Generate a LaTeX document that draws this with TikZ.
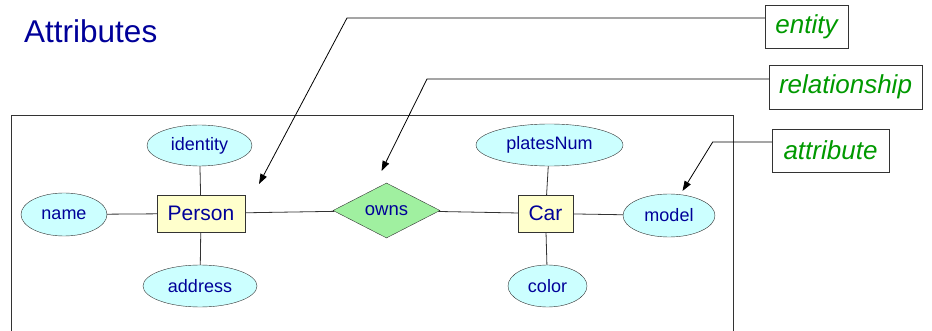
\documentclass[tikz,border=0pt]{standalone}
\usepackage{fontspec}
\setmainfont{Liberation Sans}
\usetikzlibrary{shapes.geometric,arrows.meta}
\definecolor{txtblue}{HTML}{000099}
\definecolor{attrfill}{HTML}{CCFFFF}
\definecolor{entfill}{HTML}{FFFFCC}
\definecolor{relfill}{HTML}{A0F0A0}
\definecolor{callgreen}{HTML}{009900}
\definecolor{edgegray}{HTML}{333333}
\tikzset{
  attr/.style={ellipse, draw=edgegray, fill=attrfill, inner sep=0pt, text=txtblue, font=\fontsize{18}{20}\selectfont},
  ent/.style={rectangle, draw=edgegray, fill=entfill, inner sep=0pt, text=txtblue, font=\fontsize{21}{24}\selectfont},
  rel/.style={diamond, draw=edgegray, fill=relfill, inner sep=0pt, text=txtblue, font=\fontsize{18.5}{20}\selectfont},
  callbox/.style={rectangle, draw=edgegray, inner sep=0pt, text=callgreen, font=\fontsize{26}{28}\selectfont\itshape},
  link/.style={draw=edgegray, line width=0.8pt},
  pointer/.style={draw=black, line width=0.8pt, -{Triangle[length=10pt,width=7pt]}},
}
\begin{document}
\begin{tikzpicture}[x=1pt,y=-1pt]
\useasboundingbox (0,0) rectangle (932,331);
% title
\node[anchor=base west, inner sep=0pt, text=txtblue, font=\fontsize{31.5}{34}\selectfont] (title) at (24,43) {Attributes};
% frame
\draw[edgegray, line width=1pt] (11,331) -- (11,116) -- (733,116) -- (733,331);
% nodes
\node[attr, minimum width=105pt, minimum height=41pt] (identity) at (199.5,145.5) {identity};
\node[attr, minimum width=86pt, minimum height=43pt] (name) at (64,214.5) {name};
\node[ent, minimum width=88pt, minimum height=37pt] (person) at (201,213.5) {Person};
\node[attr, minimum width=114pt, minimum height=42pt] (address) at (200,286) {address};
\node[rel, minimum width=107pt, minimum height=55pt] (owns) at (386.5,210.5) {owns};
\node[ent, minimum width=55pt, minimum height=37pt] (car) at (545.5,213.5) {Car};
\node[attr, minimum width=147pt, minimum height=42pt] (plates) at (549.5,145) {platesNum};
\node[attr, minimum width=92pt, minimum height=43pt] (model) at (669,215.5) {model};
\node[attr, minimum width=79pt, minimum height=42pt] (color) at (547.5,286) {color};
% links
\draw[link] (name) -- (person);
\draw[link] (identity) -- (person);
\draw[link] (address) -- (person);
\draw[link] (person) -- (owns);
\draw[link] (owns) -- (car);
\draw[link] (car) -- (plates);
\draw[link] (car) -- (model);
\draw[link] (car) -- (color);
% callouts
\node[callbox, minimum width=83pt, minimum height=43pt] (centity) at (806.5,26.5) {entity};
\node[callbox, minimum width=153pt, minimum height=44pt] (crel) at (845.5,87) {relationship};
\node[callbox, minimum width=117pt, minimum height=43pt] (cattr) at (830.5,150.5) {attribute};
\coordinate (ke) at (347,18);
\coordinate (te) at (259,184);
\coordinate (kr) at (427,79);
\coordinate (tr) at (381.5,171);
\coordinate (ka) at (712.7,142);
\coordinate (ta) at (682.5,191);
\draw[pointer] (centity.west |- ke) -- (ke) -- (te);
\draw[pointer] (crel.west |- kr) -- (kr) -- (tr);
\draw[pointer] (cattr.west |- ka) -- (ka) -- (ta);
\end{tikzpicture}
\end{document}
